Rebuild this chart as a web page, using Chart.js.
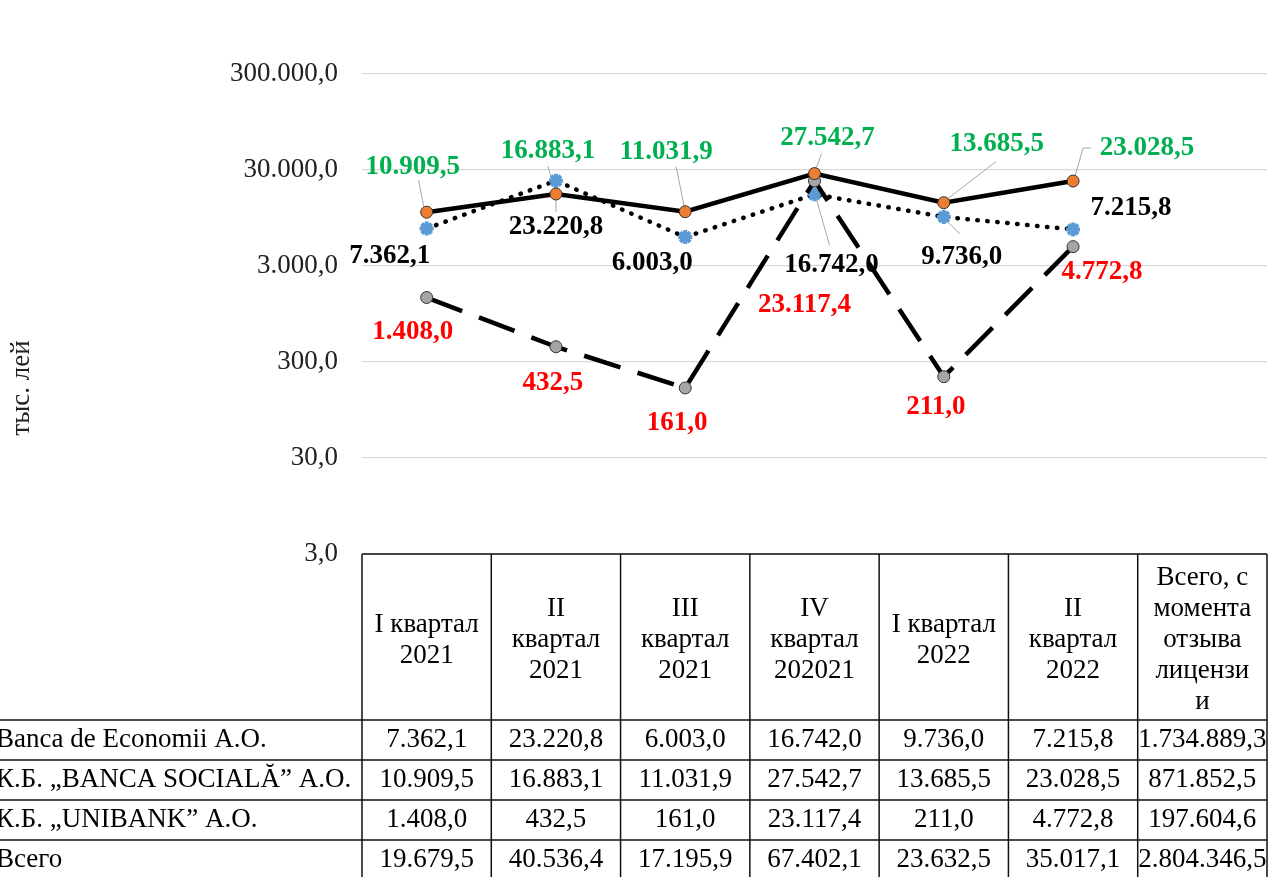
<!DOCTYPE html>
<html>
<head>
<meta charset="utf-8">
<script src="https://cdn.jsdelivr.net/npm/chart.js@4"></script>
<style>
  html, body { margin: 0; padding: 0; background: #fff; }
</style>
</head>
<body>
<canvas id="chart" width="1270" height="877"></canvas>
<script>
// header cells of the table, one entry per category (lines of text)
const categories = [
  ['I квартал', '2021'],
  ['II', 'квартал', '2021'],
  ['III', 'квартал', '2021'],
  ['IV', 'квартал', '202021'],
  ['I квартал', '2022'],
  ['II', 'квартал', '2022'],
  ['Всего, с', 'момента', 'отзыва', 'лицензи', 'и']
];
const seriesNames = ['Banca de Economii A.O.', 'К.Б. „BANCA SOCIALĂ” A.O.', 'К.Б. „UNIBANK” A.O.', 'Всего'];
const economii = [7362.1, 23220.8, 6003.0, 16742.0, 9736.0, 7215.8];
const sociala = [10909.5, 16883.1, 11031.9, 27542.7, 13685.5, 23028.5];
const unibank = [1408.0, 432.5, 161.0, 23117.4, 211.0, 4772.8];
const sinceRevocation = [1734889.3, 871852.5, 197604.6];
const totals = [19679.5, 40536.4, 17195.9, 67402.1, 23632.5, 35017.1, 2804346.5];
const yTicks = [3, 30, 300, 3000, 30000, 300000];

const FONT = '"Liberation Serif", "Times New Roman", serif';

function fmt(v) {
  const parts = v.toFixed(1).split('.');
  return parts[0].replace(/\B(?=(\d{3})+(?!\d))/g, '.') + ',' + parts[1];
}

// label placement relative to each point, plus grey leader lines
const labelStyles = [
  { color: '#000',
    offsets: [[-37, 27], [0, 46], [-33, 26], [17, 71], [18, 40], [58, -21]],
    leaders: { 1: [[0, 31], [0, 3]], 3: [[15, 51], [2, 5]], 4: [[16, 17], [3, 4]] } },
  { color: '#00B050',
    offsets: [[-14, -45], [-8, -43], [-19, -60], [13, -36], [53, -59], [74, -33]],
    leaders: { 0: [[-8, -32], [-3, -6]], 1: [[-8, -28], [-1, -4]], 2: [[-9, -45], [-1, -5]],
               3: [[7, -20], [2, -6]], 4: [[52, -41], [4, -4]], 5: [[18, -33], [10, -33], [2, -5]] } },
  { color: '#FF0000',
    offsets: [[-14, 34], [-3, 36], [-8, 35], [-10, 124], [-8, 30], [29, 25]],
    leaders: {} }
];

const labelPlugin = {
  id: 'pointLabels',
  beforeDatasetsDraw(chart) {
    const c = chart.ctx;
    c.save();
    c.strokeStyle = '#a6a6a6';
    c.lineWidth = 1;
    labelStyles.forEach((st, d) => {
      chart.getDatasetMeta(d).data.forEach((pt, i) => {
        const lead = st.leaders[i];
        if (!lead) return;
        c.beginPath();
        lead.forEach(([dx, dy], k) => {
          if (k === 0) c.moveTo(pt.x + dx, pt.y + dy);
          else c.lineTo(pt.x + dx, pt.y + dy);
        });
        c.stroke();
      });
    });
    c.restore();
  },
  afterDatasetsDraw(chart) {
    const c = chart.ctx;
    c.save();
    c.font = 'bold 27px ' + FONT;
    c.textAlign = 'center';
    c.textBaseline = 'middle';
    labelStyles.forEach((st, d) => {
      const values = chart.data.datasets[d].data;
      chart.getDatasetMeta(d).data.forEach((pt, i) => {
        const [dx, dy] = st.offsets[i];
        c.fillStyle = st.color;
        c.fillText(fmt(values[i]), pt.x + dx, pt.y + dy);
      });
    });
    c.restore();
  }
};

const tablePlugin = {
  id: 'dataTable',
  afterDraw(chart) {
    const c = chart.ctx;
    const area = chart.chartArea;
    const xs = chart.scales.x;
    const n = categories.length;
    const colW = (area.right - area.left) / n;
    const top = area.bottom;
    const headH = 166, rowH = 40, bottom = chart.height;

    c.save();
    c.strokeStyle = '#111';
    c.lineWidth = 1.5;
    c.beginPath();
    c.moveTo(area.left, top);
    c.lineTo(area.right, top);
    for (let r = 0; r < 4; r++) {
      const y = top + headH + r * rowH;
      c.moveTo(0, y);
      c.lineTo(area.right, y);
    }
    for (let i = 0; i <= n; i++) {
      const x = area.left + i * colW;
      c.moveTo(x, top);
      c.lineTo(x, bottom);
    }
    c.stroke();

    c.fillStyle = '#000';
    c.font = '27px ' + FONT;
    c.textAlign = 'center';
    c.textBaseline = 'middle';
    categories.forEach((lines, i) => {
      const x = xs.getPixelForValue(i);
      const y0 = top + headH / 2 + 3 - (lines.length - 1) * 31 / 2;
      lines.forEach((t, k) => c.fillText(t, x, y0 + k * 31));
    });

    const rows = [
      economii.concat(sinceRevocation[0]),
      sociala.concat(sinceRevocation[1]),
      unibank.concat(sinceRevocation[2]),
      totals
    ];
    rows.forEach((vals, r) => {
      const y = top + headH + r * rowH + rowH / 2;
      c.textAlign = 'left';
      c.fillText(seriesNames[r], -4, y);
      c.textAlign = 'center';
      vals.forEach((v, i) => c.fillText(fmt(v), xs.getPixelForValue(i), y));
    });

    // axis title
    c.translate(22, 388);
    c.rotate(-Math.PI / 2);
    c.fillStyle = '#222';
    c.fillText('тыс. лей', 0, 0);
    c.restore();
  }
};

new Chart(document.getElementById('chart'), {
  type: 'line',
  data: {
    labels: categories,
    datasets: [
      {
        label: seriesNames[0],
        data: economii,
        borderColor: '#000',
        borderWidth: 4.5,
        borderDash: [0.5, 9.5],
        borderCapStyle: 'round',
        pointStyle: 'star',
        pointRadius: 7,
        pointBorderWidth: 4,
        pointBorderColor: '#5B9BD5',
        pointBackgroundColor: '#5B9BD5',
        order: 3
      },
      {
        label: seriesNames[1],
        data: sociala,
        borderColor: '#000',
        borderWidth: 4.5,
        pointRadius: 6,
        pointBorderWidth: 1,
        pointBorderColor: '#333',
        pointBackgroundColor: '#ED7D31',
        order: 1
      },
      {
        label: seriesNames[2],
        data: unibank,
        borderColor: '#000',
        borderWidth: 4.5,
        borderDash: [38, 18],
        pointRadius: 6,
        pointBorderWidth: 1,
        pointBorderColor: '#333',
        pointBackgroundColor: '#A5A5A5',
        order: 2
      }
    ]
  },
  options: {
    responsive: false,
    animation: false,
    layout: { autoPadding: false, padding: { top: 74, bottom: 323, left: 0, right: 3 } },
    plugins: {
      legend: { display: false },
      tooltip: { enabled: false }
    },
    scales: {
      x: { display: false, offset: true },
      y: {
        type: 'logarithmic',
        min: 3,
        max: 300000,
        afterFit: (scale) => { scale.width = 362; },
        afterBuildTicks: (scale) => { scale.ticks = yTicks.map(v => ({ value: v })); },
        ticks: {
          callback: (v) => fmt(v),
          font: { family: FONT, size: 27 },
          color: '#222',
          padding: 24
        },
        grid: { color: '#d9d9d9', lineWidth: 1.3, drawTicks: false },
        border: { display: false }
      }
    }
  },
  plugins: [labelPlugin, tablePlugin]
});
</script>
</body>
</html>
